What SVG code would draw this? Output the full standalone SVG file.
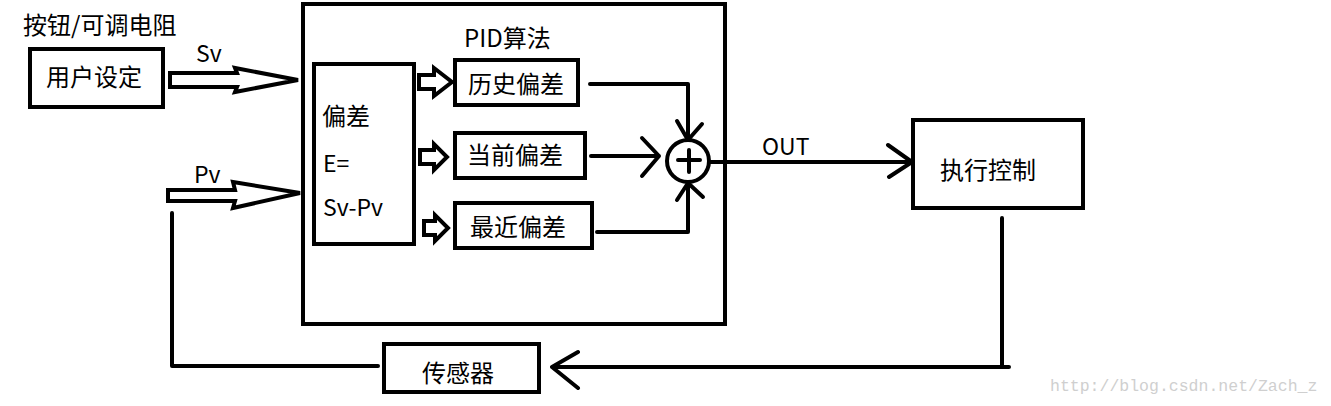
<svg xmlns="http://www.w3.org/2000/svg" width="1331" height="406" viewBox="0 0 1331 406">
<style>
.box{fill:#fff;stroke:#000;stroke-width:4}
.ln{fill:none;stroke:#000;stroke-width:4;stroke-linecap:round;stroke-linejoin:round}
.ha{fill:#fff;stroke:#000;stroke-width:4;stroke-linejoin:miter}
text{font-family:"Noto Sans CJK SC","Microsoft YaHei",sans-serif;fill:#000}
.t{font-size:24px}
.l{font-size:23px}
.wm{font-family:"Liberation Mono",monospace;font-size:16.5px;fill:#cfcfcf}
</style>
<rect width="1331" height="406" fill="#fff"/>
<g id="pid">
<rect class="box" x="303" y="4" width="422" height="320"/>
<text class="t" x="464" y="47">PID算法</text>
</g>
<g id="label-button"><text class="t" x="23" y="34">按钮/可调电阻</text></g>
<g id="user"><rect class="box" x="30" y="49" width="133" height="58"/><text class="t" x="94" y="86" text-anchor="middle">用户设定</text></g>
<g id="error"><rect class="box" x="314" y="64" width="100" height="180"/>
<text class="t" x="322" y="125">偏差</text>
<text class="l" x="323" y="172">E=</text>
<text class="l" x="323" y="216">Sv-Pv</text></g>
<g id="hist"><rect class="box" x="455" y="60" width="123" height="45"/><text class="t" x="516" y="93" text-anchor="middle">历史偏差</text></g>
<g id="curr"><rect class="box" x="455" y="133" width="130" height="45"/><text class="t" x="515" y="164" text-anchor="middle">当前偏差</text></g>
<g id="recent"><rect class="box" x="455" y="203" width="137" height="45"/><text class="t" x="518" y="236" text-anchor="middle">最近偏差</text></g>
<g id="sum"><circle class="ln" cx="688" cy="161" r="21"/><path class="ln" d="M678 160H700M689 150V172"/></g>
<g id="exec"><rect class="box" x="913" y="120" width="170" height="88"/><text class="t" x="988" y="179" text-anchor="middle">执行控制</text></g>
<g id="sensor"><rect class="box" x="384" y="344" width="155" height="48"/><text class="t" x="458" y="382" text-anchor="middle">传感器</text></g>
<g id="connectors">
<polygon class="ha" points="170,73 237,73 235,68 298,80 235,92 237,87 170,87"/>
<text class="l" x="196" y="62">Sv</text>
<polygon class="ha" points="168,190 235,190 233,182 300,193 233,208 235,201 168,201"/>
<text class="l" x="194" y="183">Pv</text>
<polygon class="ha" points="419,75 434,75 434,68 452,82 434,96 434,89 419,89"/>
<polygon class="ha" points="420,150 434,150 434,144 447,157 434,170 434,164 420,164"/>
<polygon class="ha" points="424,221 435,221 435,215 448,228 435,241 435,235 424,235"/>
<path class="ln" d="M590 84H688V140M677 121L688 140L702 124"/>
<path class="ln" d="M591 156H659M642 138L659 156L642 176"/>
<path class="ln" d="M597 232H688V183M677 200L688 183L703 197"/>
<path class="ln" d="M710 162H912M888 145L912 162L889 177"/>
<text class="l" x="762" y="155">OUT</text>
<path class="ln" d="M1002 218V367H1009M1002 367H552M578 352L552 367L578 388"/>
<path class="ln" d="M172 213V366H378"/>
</g>
<text class="wm" x="1050" y="391">http://blog.csdn.net/Zach_z</text>
</svg>
